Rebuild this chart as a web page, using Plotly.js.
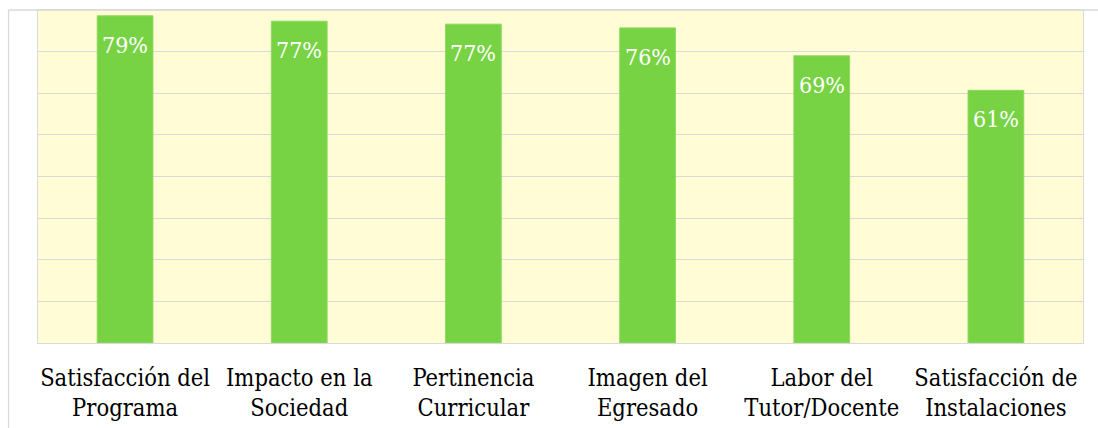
<!DOCTYPE html>
<html>
<head>
<meta charset="utf-8">
<script src="https://cdn.plot.ly/plotly-3.0.1.min.js"></script>
<style>
  html, body { margin: 0; padding: 0; background: #ffffff; }
  #chart { width: 1098px; height: 428px; }
</style>
</head>
<body>
<div id="chart"></div>
<script>
const categories = [
  "Satisfacción del<br>Programa",
  "Impacto en la<br>Sociedad",
  "Pertinencia<br>Curricular",
  "Imagen del<br>Egresado",
  "Labor del<br>Tutor/Docente",
  "Satisfacción de<br>Instalaciones"
];
const values = [78.6, 77.3, 76.6, 75.7, 69.0, 60.7];
const labels = ["79%", "77%", "77%", "76%", "69%", "61%"];

const FONT = "DejaVu Serif Condensed, DejaVu Serif, serif";

const trace = {
  type: "bar",
  x: categories,
  y: values,
  marker: { color: "#77D344", line: { color: "#8ED85E", width: 1 } },
  hoverinfo: "skip"
};

const annotations = categories.map((c, i) => ({
  x: c, y: values[i], xref: "x", yref: "y",
  text: labels[i], showarrow: false,
  yanchor: "middle", yshift: -29,
  font: { family: FONT, size: 23, color: "#ffffff" }
}));

const shapes = [
  { type: "line", xref: "paper", yref: "paper", x0: -0.0282, x1: -0.0282, y0: 1, y1: -0.3,
    line: { color: "#D9D9D9", width: 1.3 } },
  { type: "line", xref: "paper", yref: "paper", x0: -0.0282, x1: 1.02, y0: 1, y1: 1,
    line: { color: "#D9D9D9", width: 1.3 } }
];

const layout = {
  width: 1098, height: 428,
  margin: { l: 38, r: 15, t: 10, b: 85, pad: 0 },
  paper_bgcolor: "#ffffff",
  plot_bgcolor: "#FFFCD6",
  bargap: 0.68,
  showlegend: false,
  font: { family: FONT, color: "#000000" },
  xaxis: {
    type: "category",
    tickfont: { family: FONT, size: 23.5, color: "#000000" },
    tickangle: 0,
    showline: true, linecolor: "#D9D9D9", linewidth: 1.3, mirror: true,
    ticks: "", showgrid: false, automargin: false,
    ticklabelstandoff: 13
  },
  yaxis: {
    range: [0, 80], dtick: 10,
    showticklabels: false, ticks: "",
    showgrid: true, gridcolor: "#D9D9D9", gridwidth: 1,
    zeroline: false,
    showline: true, linecolor: "#D9D9D9", linewidth: 1.3, mirror: true,
    fixedrange: true
  },
  annotations: annotations,
  shapes: shapes
};

Plotly.newPlot("chart", [trace], layout, { displayModeBar: false, staticPlot: true });
</script>
</body>
</html>
